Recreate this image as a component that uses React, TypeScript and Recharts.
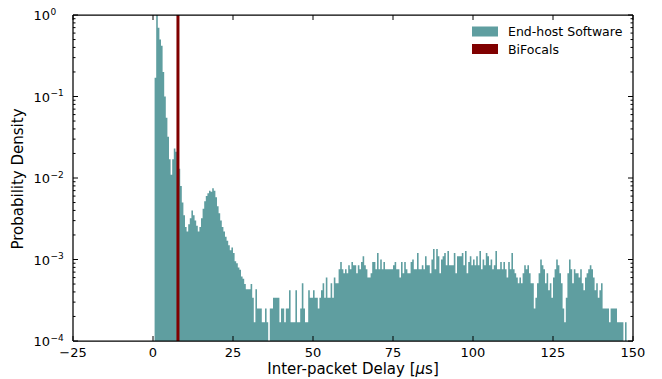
import React from 'react';
import { ComposedChart, Area, XAxis, YAxis, ReferenceLine } from 'recharts';

// Histogram of inter-packet delay, 0.5 µs bins starting at 0 µs (probability density, log axis)
const BIN_START = 0;
const BIN_WIDTH = 0.5;
const endHostDensity: number[] = [
  // 0 – 10 µs
  0, 0.17, 1.0, 0.7, 0.5, 0.42, 0.2, 0.1, 0.055, 0.032,
  0.017, 0.011, 0.017, 0.023, 0.021, 0.019, 0.013, 0.008, 0.005, 0.0035,
  // 10 – 20 µs
  0.0025, 0.0022, 0.0027, 0.0032, 0.004, 0.0035, 0.003, 0.0026, 0.0022, 0.0025,
  0.0032, 0.0042, 0.0052, 0.006, 0.0065, 0.007, 0.0068, 0.0075, 0.007, 0.0058,
  // 20 – 30 µs
  0.0045, 0.0037, 0.003, 0.0025, 0.0022, 0.0019, 0.0017, 0.0015, 0.0013, 0.0014,
  0.0012, 0.00095, 0.0009, 0.0008, 0.00075, 0.00062, 0.00058, 0.0005, 0.00043, 0.00043,
  // 30 – 40 µs
  0.00043, 0.0005, 0.00034, 0.00017, 0.00043, 0.00025, 0.00025, 0.00025, 0.00017, 0.00017,
  0.00025, 0.00017, 0, 0.00025, 0.00025, 0.00034, 0.00034, 0.00034, 0.00034, 0.00017,
  // 40 – 50 µs
  0.00025, 0.00025, 0.00017, 0.00025, 0.00025, 0.00042, 0.00017, 0.00017, 0.00017, 0.00042,
  0.00017, 0.00017, 0.00025, 0.00051, 0.00025, 0.00017, 0.00017, 0.00042, 0.00034, 0.00034,
  // 50 – 60 µs
  0.00042, 0.00034, 0.00034, 0.00025, 0.00034, 0.00042, 0.00051, 0.00034, 0.0006, 0.00034,
  0.00034, 0.00051, 0.00034, 0.0006, 0.00051, 0.00051, 0.00076, 0.00093, 0.00076, 0.00068,
  // 60 – 70 µs
  0.00076, 0.00068, 0.00085, 0.00076, 0.00093, 0.00085, 0.00085, 0.00068, 0.00085, 0.00076,
  0.00093, 0.0011, 0.00085, 0.00076, 0.0006, 0.0006, 0.00068, 0.00093, 0.00093, 0.00076,
  // 70 – 80 µs
  0.0012, 0.00076, 0.001, 0.00076, 0.00093, 0.00076, 0.00076, 0.00076, 0.00076, 0.00076,
  0.00085, 0.00093, 0.00076, 0.00076, 0.0006, 0.00093, 0.00068, 0.00093, 0.00076, 0.00068,
  // 80 – 90 µs
  0.00068, 0.00093, 0.001, 0.00076, 0.00076, 0.0012, 0.00076, 0.00076, 0.00085, 0.00076,
  0.0011, 0.00085, 0.00085, 0.00068, 0.001, 0.00135, 0.00076, 0.00135, 0.0011, 0.00068,
  // 90 – 100 µs
  0.001, 0.0011, 0.0012, 0.00085, 0.00127, 0.00085, 0.00085, 0.00085, 0.0012, 0.00068,
  0.0011, 0.0011, 0.0011, 0.0012, 0.00085, 0.00127, 0.00068, 0.00093, 0.0011, 0.00085,
  // 100 – 110 µs
  0.001, 0.00085, 0.0011, 0.00085, 0.00127, 0.00076, 0.001, 0.00085, 0.0012, 0.0011,
  0.00085, 0.001, 0.00076, 0.00085, 0.00127, 0.00076, 0.00076, 0.00093, 0.00076, 0.00093,
  // 110 – 120 µs
  0.00076, 0.0006, 0.00093, 0.00076, 0.0012, 0.00076, 0.00068, 0.0006, 0.00051, 0.0006,
  0.00051, 0.00068, 0.00085, 0.00076, 0.00085, 0.00068, 0.00051, 0.00051, 0.00025, 0.00034,
  // 120 – 130 µs
  0.00051, 0.00068, 0.001, 0.00085, 0.00076, 0.00051, 0.00068, 0.00042, 0.00051, 0.00034,
  0.0006, 0.00076, 0.001, 0.00085, 0.00068, 0.00051, 0.00025, 0.00017, 0.00034, 0.00068,
  // 130 – 140 µs
  0.001, 0.00076, 0.00051, 0.00076, 0.00068, 0.00068, 0.0006, 0.00076, 0.00051, 0.00042,
  0.0006, 0.00068, 0.00076, 0.00085, 0.00076, 0.0006, 0.00042, 0.00051, 0.00034, 0.00042,
  // 140 – 148 µs
  0.00051, 0.00025, 0.00025, 0.00025, 0.00025, 0.00017, 0.00025, 0.00025, 0.00025, 0.00025,
  0.00017, 0.00017, 0.00017, 0.00017, 0, 0.00017,
];

const bifocalsDelay = 7.8; // µs
const seriesNames = ['End-host Software', 'BiFocals'];
const xTicks = [-25, 0, 25, 50, 75, 100, 125, 150];
const xDomain = [-25, 150];
const yDomain = [1e-4, 1];
const yMajorTicks = [1e-4, 1e-3, 1e-2, 1e-1, 1];
const yMinorTicks = [
  2e-4, 3e-4, 4e-4, 5e-4, 6e-4, 7e-4, 8e-4, 9e-4,
  2e-3, 3e-3, 4e-3, 5e-3, 6e-3, 7e-3, 8e-3, 9e-3,
  2e-2, 3e-2, 4e-2, 5e-2, 6e-2, 7e-2, 8e-2, 9e-2,
  2e-1, 3e-1, 4e-1, 5e-1, 6e-1, 7e-1, 8e-1, 9e-1,
];
const xTitle = 'Inter-packet Delay [';
const yTitle = 'Probability Density';

const TEAL = '#5f9ea0';
const MAROON = '#800000';
const FONT = '"DejaVu Sans", sans-serif';
const W = 662;
const H = 379;

const chartData = [
  ...endHostDensity.map((v, i) => ({ x: BIN_START + i * BIN_WIDTH, y: Math.max(v, yDomain[0]) })),
  {
    x: BIN_START + endHostDensity.length * BIN_WIDTH,
    y: Math.max(endHostDensity[endHostDensity.length - 1], yDomain[0]),
  },
];
const allYTicks = [...yMajorTicks, ...yMinorTicks];

const fmtX = (v: number) => (v < 0 ? `\u2212${Math.abs(v)}` : `${v}`);
const isMajor = (v: number) => yMajorTicks.includes(v);

function BottomTick(props: any) {
  const { x, y, payload } = props;
  return (
    <g>
      <line x1={x} x2={x} y1={y} y2={y - 5} stroke="#000" strokeWidth={1} />
      <text x={x} y={y + 16} textAnchor="middle" fontSize={13} fontFamily={FONT} fill="#000">
        {fmtX(payload.value)}
      </text>
    </g>
  );
}

function TopTick(props: any) {
  const { x, y } = props;
  return <line x1={x} x2={x} y1={y} y2={y + 5} stroke="#000" strokeWidth={1} />;
}

function LeftTick(props: any) {
  const { x, y, payload } = props;
  const v = payload.value as number;
  const major = isMajor(v);
  const len = major ? 5 : 2.5;
  const exp = Math.round(Math.log10(v));
  return (
    <g>
      <line x1={x} x2={x + len} y1={y} y2={y} stroke="#000" strokeWidth={1} />
      {major && (
        <g>
          <text x={x - 23} y={y + 5} textAnchor="end" fontSize={13} fontFamily={FONT} fill="#000">
            10
          </text>
          <text x={x - 22.5} y={y - 0.5} textAnchor="start" fontSize={9} fontFamily={FONT} fill="#000">
            {exp < 0 ? `\u2212${Math.abs(exp)}` : `${exp}`}
          </text>
        </g>
      )}
    </g>
  );
}

function RightTick(props: any) {
  const { x, y, payload } = props;
  const len = isMajor(payload.value) ? 5 : 2.5;
  return <line x1={x} x2={x - len} y1={y} y2={y} stroke="#000" strokeWidth={1} />;
}

const axisLine = { stroke: '#000', strokeWidth: 1.25 };

export default function App() {
  return (
    <div style={{ position: 'absolute', left: 0, top: 0, width: W, height: H, background: '#fff' }}>
      <ComposedChart
        width={W}
        height={H}
        data={chartData}
        margin={{ top: 0, right: 0, bottom: 0, left: 0 }}
      >
        <XAxis
          xAxisId="bottom"
          dataKey="x"
          type="number"
          domain={xDomain}
          ticks={xTicks}
          interval={0}
          allowDataOverflow
          height={38}
          tickSize={0}
          tickMargin={0}
          tickLine={false}
          axisLine={axisLine}
          tick={<BottomTick />}
        />
        <XAxis
          xAxisId="top"
          orientation="top"
          dataKey="x"
          type="number"
          domain={xDomain}
          ticks={xTicks}
          interval={0}
          allowDataOverflow
          height={15}
          tickSize={0}
          tickMargin={0}
          tickLine={false}
          axisLine={axisLine}
          tick={<TopTick />}
        />
        <YAxis
          yAxisId="left"
          type="number"
          scale="log"
          domain={yDomain}
          ticks={allYTicks}
          interval={0}
          allowDataOverflow
          width={73}
          tickSize={0}
          tickMargin={0}
          tickLine={false}
          axisLine={axisLine}
          tick={<LeftTick />}
        />
        <YAxis
          yAxisId="right"
          orientation="right"
          type="number"
          scale="log"
          domain={yDomain}
          ticks={allYTicks}
          interval={0}
          allowDataOverflow
          width={29}
          tickSize={0}
          tickMargin={0}
          tickLine={false}
          axisLine={axisLine}
          tick={<RightTick />}
        />
        <Area
          xAxisId="bottom"
          yAxisId="left"
          dataKey="y"
          type="stepAfter"
          baseValue={yDomain[0]}
          fill={TEAL}
          fillOpacity={1}
          stroke="none"
          isAnimationActive={false}
          name={seriesNames[0]}
        />
        <ReferenceLine
          xAxisId="bottom"
          yAxisId="left"
          x={bifocalsDelay}
          stroke={MAROON}
          strokeWidth={3}
          ifOverflow="hidden"
        />
      </ComposedChart>
      <svg
        width={W}
        height={H}
        style={{ position: 'absolute', left: 0, top: 0, pointerEvents: 'none' }}
      >
        <text
          x={353}
          y={374}
          textAnchor="middle"
          fontSize={15}
          fontFamily={FONT}
          fill="#000"
        >
          {xTitle}
          <tspan fontStyle="italic">{'\u03bc'}</tspan>
          {'s]'}
        </text>
        <text
          transform="translate(23,179) rotate(-90)"
          textAnchor="middle"
          fontSize={15}
          fontFamily={FONT}
          fill="#000"
        >
          {yTitle}
        </text>
        <rect x={472} y={26.5} width={26} height={10} fill={TEAL} />
        <text x={508} y={36} fontSize={12.5} fontFamily={FONT} fill="#000">
          {seriesNames[0]}
        </text>
        <rect x={472} y={44} width={26} height={10} fill={MAROON} />
        <text x={508} y={54} fontSize={12.5} fontFamily={FONT} fill="#000">
          {seriesNames[1]}
        </text>
      </svg>
    </div>
  );
}
